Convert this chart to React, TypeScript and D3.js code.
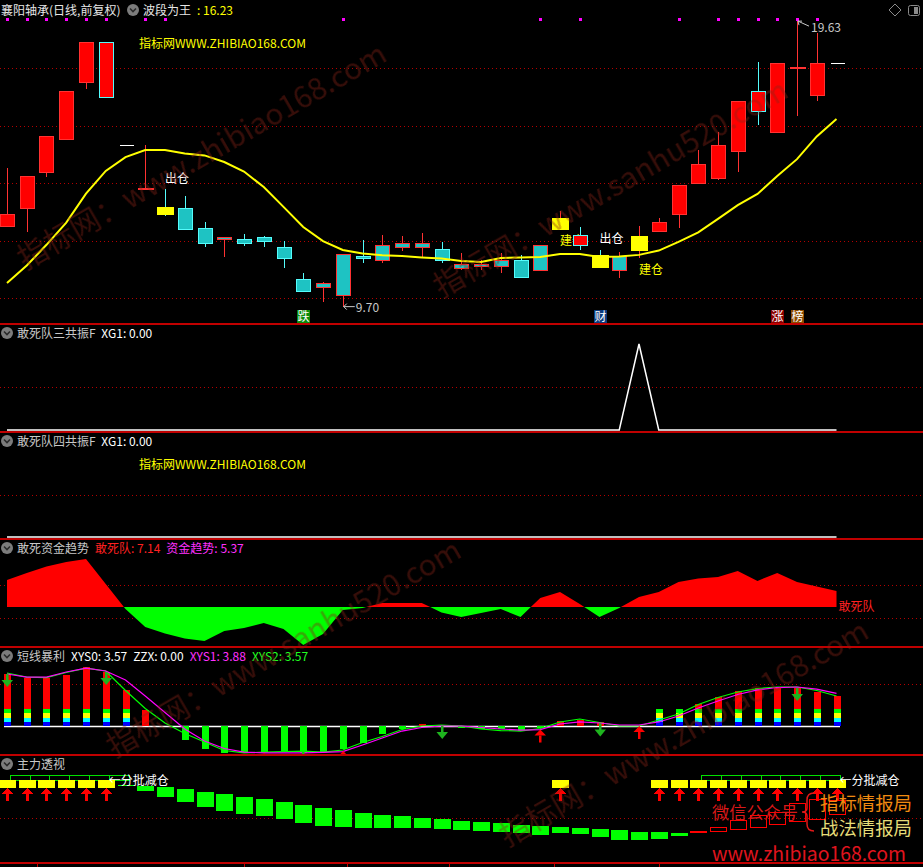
import * as d3 from 'd3';
import { useEffect, useRef } from 'react';

const W = 923;
const H = 867;

// daily candles, price
const openP = [12.47, 13.10, 14.38, 15.53, 17.48, 18.87, 15.32, 13.79, 13.17, 13.13, 12.43, 12.02, 12.02, 12.09, 11.77, 10.66, 10.38, 10.07, 11.43, 11.29, 11.77, 11.77, 11.67, 11.04, 11.08, 11.11, 11.32, 10.94, 12.37, 12.19, 11.50, 10.97, 11.63, 12.33, 12.89, 13.97, 14.17, 15.11, 17.20, 15.74, 18.00, 17.06, 18.17];
const highP = [14.52, 14.21, 15.63, 17.20, 18.90, 18.90, 15.32, 15.32, 13.79, 13.55, 12.64, 12.12, 12.23, 12.16, 11.98, 10.87, 10.56, 11.53, 12.02, 12.19, 12.16, 12.26, 11.95, 11.57, 11.32, 11.57, 11.50, 11.84, 13.03, 12.47, 11.67, 11.60, 12.50, 12.78, 13.90, 15.15, 15.77, 16.82, 18.21, 18.14, 19.63, 19.22, 18.17];
const lowP = [12.47, 12.30, 14.21, 15.50, 17.27, 16.99, 15.32, 13.79, 12.85, 12.40, 11.77, 11.43, 11.81, 11.77, 11.04, 10.24, 9.86, 9.70, 11.22, 11.22, 11.63, 11.39, 11.22, 10.97, 10.97, 10.87, 10.73, 10.94, 12.37, 11.67, 11.04, 10.70, 11.39, 12.33, 12.43, 13.97, 14.10, 14.38, 16.02, 15.74, 16.33, 16.85, 18.17];
const closeP = [12.92, 14.21, 15.63, 17.20, 18.90, 16.99, 15.32, 13.79, 12.89, 12.40, 11.88, 12.12, 11.91, 11.95, 11.39, 10.24, 10.49, 11.50, 11.39, 11.81, 11.88, 11.91, 11.32, 11.15, 11.15, 11.32, 10.73, 11.84, 12.78, 11.84, 11.04, 11.43, 12.16, 12.64, 13.90, 14.63, 15.29, 16.82, 16.50, 18.14, 18.00, 18.17, 18.17];
// body paint: r red, c cyan, y yellow, w white
const bodyFill = ['r', 'r', 'r', 'r', 'r', 'r', 'w', 'r', 'y', 'c', 'c', 'c', 'c', 'c', 'c', 'c', 'c', 'c', 'c', 'c', 'c', 'c', 'c', 'c', 'c', 'c', 'c', 'c', 'y', 'r', 'y', 'c', 'y', 'r', 'r', 'r', 'r', 'r', 'r', 'r', 'r', 'r', 'w'];
// 波段为王
const maP = [10.52, 11.13, 11.85, 12.62, 13.63, 14.42, 14.90, 15.15, 15.15, 15.03, 14.96, 14.73, 14.40, 13.86, 13.17, 12.47, 11.98, 11.67, 11.55, 11.49, 11.46, 11.41, 11.37, 11.29, 11.25, 11.39, 11.41, 11.43, 11.53, 11.53, 11.43, 11.44, 11.50, 11.65, 11.95, 12.28, 12.75, 13.23, 13.62, 14.24, 14.83, 15.62, 16.23];
const dotIdx = [0, 1, 2, 3, 4, 5, 7, 8, 17, 27, 29, 34, 36, 37, 38, 39, 40, 41];
const sellIdx = [8, 30];
const buyIdx = [28, 32];
const markIdx = [15, 30, 39, 40];
const markText = ['跌', '财', '涨', '榜'];
const markColor = ['#0a8a0a', '#0b3b7e', '#8a0000', '#8c4a00'];

// 敢死队三共振F / 四共振F
const xg3 = [0, 0, 0, 0, 0, 0, 0, 0, 0, 0, 0, 0, 0, 0, 0, 0, 0, 0, 0, 0, 0, 0, 0, 0, 0, 0, 0, 0, 0, 0, 0, 0, 1, 0, 0, 0, 0, 0, 0, 0, 0, 0, 0];
const xg4 = [0, 0, 0, 0, 0, 0, 0, 0, 0, 0, 0, 0, 0, 0, 0, 0, 0, 0, 0, 0, 0, 0, 0, 0, 0, 0, 0, 0, 0, 0, 0, 0, 0, 0, 0, 0, 0, 0, 0, 0, 0, 0, 0];

// 敢死资金趋势
const gsd = [12.0, 15.1, 18.0, 20.0, 21.3, 10.2, -0.9, -8.9, -11.8, -14.0, -15.1, -10.7, -9.3, -7.1, -9.8, -16.9, -12.0, -1.3, -0.4, 1.8, 1.8, 1.8, -2.4, -4.4, -2.7, -0.9, -4.4, 4.0, 6.7, 1.3, -4.4, -0.4, 4.4, 6.7, 11.1, 12.7, 13.3, 16.0, 11.6, 15.1, 11.1, 9.1, 7.14];

// 短线暴利
const xys0 = [6.19, 5.71, 5.71, 6.07, 7.02, 6.43, 4.29, 1.90, 0, -1.67, -2.74, -3.21, -3.21, -3.10, -2.98, -3.21, -3.10, -2.74, -2.02, -1.01, -0.30, 0.18, 0, -0.18, -0.36, -0.36, -0.60, -0.18, 0.54, 0.77, 0.42, 0, 0, 2.02, 2.02, 2.62, 3.45, 4.17, 4.52, 4.64, 4.52, 4.05, 3.57];
const xys1 = [6.19, 5.83, 5.83, 6.43, 6.90, 6.55, 5.48, 3.57, 1.61, -0.36, -1.79, -2.68, -3.10, -3.21, -3.21, -3.21, -3.15, -3.04, -2.26, -1.43, -0.60, -0.18, 0, 0, -0.18, -0.36, -0.48, -0.42, 0.24, 0.48, 0.36, 0.12, 0.12, 0.48, 1.19, 2.14, 2.98, 3.75, 4.29, 4.58, 4.64, 4.40, 3.88];
const xys2 = [6.31, 5.83, 5.77, 6.37, 6.90, 6.55, 4.23, 2.08, 0.36, -0.89, -1.90, -2.92, -3.21, -3.10, -3.04, -2.98, -3.10, -2.86, -1.96, -1.25, -0.42, 0, 0.12, 0, -0.36, -0.54, -0.60, -0.30, 0.48, 0.83, 0.42, 0, 0, 0.71, 1.43, 2.56, 3.39, 4.05, 4.46, 4.64, 4.64, 4.23, 3.57];
const downIdx = [0, 5, 15, 22, 30, 40];
const upIdx = [13, 17, 27, 32];

// 主力透视
const zlOpen = [null, null, null, null, null, null, 78, 77, 76, 74, 71, 69, 66, 64, 61, 58, 55, 53, 50, 48, 47, 45, 44, 42, 41, 40, 38, 37, 36, 35, 34, 33, 31, 31, 30, 30, 31, 33, 35, 38, 41, 43, 48];
const zlClose = [null, null, null, null, null, null, 77, 72, 66, 61, 56, 52, 49, 47, 44, 40, 37, 36, 35, 35, 35, 35, 34, 33, 32, 31, 30, 28, 30, 29, 26, 23, 23, 24, 27, 32, 36, 43, 48, 51, 60, 64, 63];
const zlSignal = [0, 1, 2, 3, 4, 5, 28, 33, 34, 35, 36, 37, 38, 39, 40, 41, 42];
const zlHold = [0, 1, 2, 3, 4, 5, 35, 36, 37, 38, 39, 40, 41];
const dateTicks = [1.5, 12, 17.2, 22.4, 27.7, 33];

const watermarks = [
  { text: '指标网：www.zhibiao168.com', x: 203, y: 158 },
  { text: '指标网：www.sanhu520.com', x: 612, y: 190 },
  { text: '指标网：www.sanhu520.com', x: 285, y: 650 },
  { text: '指标网：www.zhibiao168.com', x: 685, y: 735 },
];

const FONT = '"Noto Sans CJK SC", "Noto Sans", sans-serif';

export default function App() {
  const ref = useRef<SVGSVGElement>(null);

  useEffect(() => {
    if (!ref.current) return;
    const svg = d3.select(ref.current);
    svg.selectAll('*').remove();

    const n = closeP.length;
    const idx = d3.range(n);
    const x = d3.scaleLinear().domain([0, n - 1]).range([7, 836.5]);
    const cx = (i: number) => Math.round(x(i)) + 0.5;

    const yP = d3.scaleLinear().domain([10, 18]).range([298, 68]);
    const y3 = d3.scaleLinear().domain([0, 1]).range([430, 344]);
    const y4 = d3.scaleLinear().domain([0, 1]).range([537, 453]);
    const yF = d3.scaleLinear().domain([0, 10]).range([607, 584.5]);
    const yS = d3.scaleLinear().domain([0, 5]).range([726, 684]);
    const yZ = d3.scaleLinear().domain([0, 100]).range([863, 763]);

    svg.append('rect').attr('width', W).attr('height', H).attr('fill', '#000');

    // dotted grid
    const grid = svg.append('g').attr('stroke', '#b40000').attr('stroke-dasharray', '1,3').attr('shape-rendering', 'crispEdges');
    [...[10, 12, 14, 16, 18].map(yP), y3(0.5), y4(0.5), yF(10), yF(-5), yS(5), yZ(45)].forEach(gy => {
      const yy = Math.round(gy) + 0.5;
      grid.append('line').attr('x1', 0).attr('x2', W).attr('y1', yy).attr('y2', yy);
    });

    // panel separators
    [324, 432, 539, 647, 755, 863].forEach(sy => {
      svg.append('rect').attr('x', 0).attr('y', sy - 1).attr('width', W).attr('height', 2).attr('fill', '#c00000');
    });
    dateTicks.forEach(t => {
      svg.append('rect').attr('x', Math.round(x(t))).attr('y', 864).attr('width', 1).attr('height', 3).attr('fill', '#c00000');
    });

    const icon = (ix: number, iy: number) => {
      svg.append('circle').attr('cx', ix).attr('cy', iy).attr('r', 6).attr('fill', '#7c7c7c');
      svg.append('path').attr('d', `M${ix - 3},${iy - 1.5} L${ix},${iy + 1.5} L${ix + 3},${iy - 1.5}`)
        .attr('fill', 'none').attr('stroke', '#2a2a2a').attr('stroke-width', 1.6);
    };
    const header = (hx: number, hy: number, parts: [string, string][]) => {
      const t = svg.append('text').attr('x', hx).attr('y', hy + 4.5).attr('font-size', 12).attr('font-family', FONT);
      parts.forEach(([s, col], k) => t.append('tspan').attr('dx', k ? 6 : 0).attr('fill', col).text(s));
    };

    // ---------- panel 1: candles ----------
    header(1, 10, [['襄阳轴承(日线,前复权)', '#e6e6e6']]);
    icon(133, 10);
    header(143, 10, [['波段为王', '#e6e6e6'], [': 16.23', '#ffff00']]);
    // top-right icons
    svg.append('path').attr('d', 'M895,4 L901,10 L895,16 L889,10 Z').attr('fill', 'none').attr('stroke', '#8a8a8a');
    svg.append('rect').attr('x', 908.5).attr('y', 5.5).attr('width', 11).attr('height', 10).attr('rx', 2).attr('fill', 'none').attr('stroke', '#8a8a8a');
    svg.append('rect').attr('x', 914).attr('y', 7).attr('width', 4).attr('height', 7).attr('fill', '#8a8a8a');

    svg.append('text').attr('x', 139).attr('y', 47.5).attr('font-size', 12).attr('font-family', FONT)
      .attr('fill', '#ffff00').attr('textLength', 167).attr('lengthAdjust', 'spacingAndGlyphs').text('指标网WWW.ZHIBIAO168.COM');

    svg.append('g').attr('fill', '#ff00ff').selectAll('rect').data(dotIdx).join('rect')
      .attr('x', i => Math.round(x(i)) - 1).attr('y', 18).attr('width', 3).attr('height', 3);

    // signal words
    sellIdx.forEach(i => {
      svg.append('text').attr('x', x(i)).attr('y', yP(highP[i]) - 11 + 4.5).attr('font-size', 12).attr('font-family', FONT)
        .attr('fill', '#ffffff').text('出仓');
    });
    buyIdx.forEach(i => {
      svg.append('text').attr('x', x(i)).attr('y', yP(lowP[i]) + 11 + 4.5).attr('font-size', 12).attr('font-family', FONT)
        .attr('fill', '#ffff00').text('建仓');
    });

    const RED = '#ff3232';
    const CYAN = '#54fcfc';
    const paint: Record<string, string> = { r: '#ff0000', c: '#1ec3c3', y: '#ffff00', w: '#ffffff' };
    const cg = svg.append('g').attr('shape-rendering', 'crispEdges');
    idx.forEach(i => {
      const px = cx(i);
      const o = openP[i];
      const c = closeP[i];
      const f = bodyFill[i];
      if (f === 'w') {
        cg.append('line').attr('x1', px - 7).attr('x2', px + 7).attr('y1', yP(c)).attr('y2', yP(c)).attr('stroke', '#ffffff');
        return;
      }
      const edge = c >= o ? RED : CYAN;
      cg.append('line').attr('x1', px).attr('x2', px).attr('y1', yP(highP[i])).attr('y2', yP(lowP[i])).attr('stroke', edge);
      if (o === c) {
        cg.append('line').attr('x1', px - 8).attr('x2', px + 8).attr('y1', yP(o)).attr('y2', yP(o)).attr('stroke', edge).attr('stroke-width', 2);
        return;
      }
      const top = yP(Math.max(o, c));
      const bot = yP(Math.min(o, c));
      const hw = f === 'y' ? 8.5 : 7;
      cg.append('rect').attr('x', px - hw).attr('y', top).attr('width', hw * 2).attr('height', Math.max(1, bot - top))
        .attr('fill', paint[f]).attr('stroke', f === 'y' ? 'none' : edge);
    });

    svg.append('path').datum(idx)
      .attr('d', d3.line<number>().x(i => x(i)).y(i => yP(maP[i])))
      .attr('fill', 'none').attr('stroke', '#ffff00').attr('stroke-width', 2);

    // extremes
    const lo = d3.minIndex(lowP);
    const hi = d3.maxIndex(highP);
    const ly = yP(lowP[lo]);
    svg.append('path').attr('d', `M${x(lo) + 1},${ly} L${x(lo) + 12},${ly} M${x(lo) + 4},${ly - 3} L${x(lo) + 1},${ly} L${x(lo) + 4},${ly + 3}`)
      .attr('fill', 'none').attr('stroke', '#c8c8c8');
    svg.append('text').attr('x', x(lo) + 13).attr('y', ly + 5).attr('font-size', 12).attr('font-family', FONT).attr('fill', '#c8c8c8').text(lowP[lo].toFixed(2));
    const hy = yP(highP[hi]);
    svg.append('path').attr('d', `M${x(hi) + 1},${hy} L${x(hi) + 12},${hy + 5} M${x(hi) + 1},${hy} L${x(hi) + 5},${hy} M${x(hi) + 1},${hy} L${x(hi) + 2},${hy + 4}`)
      .attr('fill', 'none').attr('stroke', '#c8c8c8');
    svg.append('text').attr('x', x(hi) + 14).attr('y', hy + 11).attr('font-size', 12).attr('font-family', FONT).attr('fill', '#c8c8c8').text(highP[hi].toFixed(2));

    markIdx.forEach((i, k) => {
      svg.append('rect').attr('x', Math.round(x(i)) - 6).attr('y', 310).attr('width', 13).attr('height', 13).attr('fill', markColor[k]);
      svg.append('text').attr('x', Math.round(x(i)) + 0.5).attr('y', 321).attr('text-anchor', 'middle').attr('font-size', 12)
        .attr('font-family', FONT).attr('fill', '#ffffff').text(markText[k]);
    });

    // ---------- panel 2 & 3 ----------
    icon(7, 333);
    header(17, 333, [['敢死队三共振F', '#c8c8c8'], ['XG1: 0.00', '#ffffff']]);
    svg.append('path').datum(idx).attr('d', d3.line<number>().x(i => x(i)).y(i => y3(xg3[i])))
      .attr('fill', 'none').attr('stroke', '#ffffff').attr('stroke-width', 1.5);
    icon(7, 441);
    header(17, 441, [['敢死队四共振F', '#c8c8c8'], ['XG1: 0.00', '#ffffff']]);
    svg.append('text').attr('x', 139).attr('y', 468.5).attr('font-size', 12).attr('font-family', FONT)
      .attr('fill', '#ffff00').attr('textLength', 167).attr('lengthAdjust', 'spacingAndGlyphs').text('指标网WWW.ZHIBIAO168.COM');
    svg.append('path').datum(idx).attr('d', d3.line<number>().x(i => x(i)).y(i => y4(xg4[i])))
      .attr('fill', 'none').attr('stroke', '#ffffff').attr('stroke-width', 1.5);

    // ---------- panel 4 ----------
    icon(7, 548);
    header(17, 548, [['敢死资金趋势', '#c8c8c8'], ['敢死队: 7.14', '#ff2020'], ['资金趋势: 5.37', '#ff30ff']]);
    const defs = svg.append('defs');
    defs.append('clipPath').attr('id', 'pos').append('rect').attr('x', 0).attr('y', 541).attr('width', W).attr('height', yF(0) - 541);
    defs.append('clipPath').attr('id', 'neg').append('rect').attr('x', 0).attr('y', yF(0)).attr('width', W).attr('height', 646 - yF(0));
    defs.append('clipPath').attr('id', 'p5').append('rect').attr('x', 0).attr('y', 648).attr('width', W).attr('height', 106);
    const areaF = d3.area<number>().x(i => x(i)).y0(yF(0)).y1(i => yF(gsd[i]));
    svg.append('path').datum(idx).attr('d', areaF).attr('fill', '#ff0000').attr('clip-path', 'url(#pos)');
    svg.append('path').datum(idx).attr('d', areaF).attr('fill', '#00ff00').attr('clip-path', 'url(#neg)');
    svg.append('text').attr('x', x(n - 1) + 2).attr('y', yF(0) + 4).attr('font-size', 12).attr('font-family', FONT).attr('fill', '#ff2020').text('敢死队');

    // ---------- panel 5 ----------
    icon(7, 656);
    header(17, 656, [['短线暴利', '#c8c8c8'], ['XYS0: 3.57', '#ffffff'], ['ZZX: 0.00', '#ffffff'], ['XYS1: 3.88', '#ff30ff'], ['XYS2: 3.57', '#20ff20']]);
    const g5 = svg.append('g').attr('clip-path', 'url(#p5)');
    g5.append('line').attr('x1', 4).attr('x2', 840).attr('y1', yS(0) + 0.5).attr('y2', yS(0) + 0.5).attr('stroke', '#ffffff').attr('stroke-width', 1.5);
    const stack = ['#0000ff', '#00ffff', '#ffff00', '#00ff00'];
    const bars = g5.append('g').attr('shape-rendering', 'crispEdges');
    idx.forEach(i => {
      const v = xys0[i];
      if (v === 0) return;
      const bx = Math.round(x(i)) - 3;
      bars.append('rect').attr('x', bx).attr('width', 7).attr('y', Math.min(yS(v), yS(0))).attr('height', Math.abs(yS(v) - yS(0)))
        .attr('fill', v > 0 ? '#ff0000' : '#00ff00');
      if (v >= 2) {
        stack.forEach((col, k) => {
          bars.append('rect').attr('x', bx).attr('width', 7).attr('y', yS((k + 1) * 0.5)).attr('height', yS(k * 0.5) - yS((k + 1) * 0.5)).attr('fill', col);
        });
      }
    });
    g5.append('path').datum(idx).attr('d', d3.line<number>().x(i => x(i)).y(i => yS(xys2[i])))
      .attr('fill', 'none').attr('stroke', '#00ff00').attr('stroke-width', 1.2);
    g5.append('path').datum(idx).attr('d', d3.line<number>().x(i => x(i)).y(i => yS(xys1[i])))
      .attr('fill', 'none').attr('stroke', '#ff00ff').attr('stroke-width', 1.2);

    const arrow = (g: any, ax: number, ay: number, down: boolean, col: string) => {
      if (down) {
        g.append('rect').attr('x', ax - 1).attr('y', ay).attr('width', 2.5).attr('height', 7).attr('fill', col);
        g.append('path').attr('d', `M${ax - 5.5},${ay + 6} L${ax + 6},${ay + 6} L${ax + 0.25},${ay + 13} Z`).attr('fill', col);
      } else {
        g.append('path').attr('d', `M${ax + 0.25},${ay} L${ax - 5.5},${ay + 6} L${ax + 6},${ay + 6} Z`).attr('fill', col);
        g.append('rect').attr('x', ax - 1).attr('y', ay + 6).attr('width', 2.5).attr('height', 7).attr('fill', col);
      }
    };
    const ag = g5.append('g');
    downIdx.forEach(i => arrow(ag, Math.round(x(i)), yS(Math.max(xys1[i], xys2[i])) + 1, true, '#1eb41e'));
    upIdx.forEach(i => arrow(ag, Math.round(x(i)), yS(Math.max(xys1[i], xys2[i])) + 1, false, '#ff0000'));

    // ---------- panel 6 ----------
    icon(7, 764);
    header(17, 764, [['主力透视', '#c8c8c8']]);
    const g6 = svg.append('g').attr('shape-rendering', 'crispEdges');
    zlHold.forEach(i => {
      const x0 = Math.round(x(i)) + 3;
      const x1 = Math.round(x(i + 1)) + 3;
      g6.append('rect').attr('x', x0 + 0.5).attr('y', yZ(88) + 0.5).attr('width', x1 - x0).attr('height', yZ(83) - yZ(88))
        .attr('fill', 'none').attr('stroke', '#00e000');
    });
    idx.forEach(i => {
      const o = zlOpen[i];
      const c = zlClose[i];
      if (o === null || c === null) return;
      const top = yZ(Math.max(o, c));
      const bot = yZ(Math.min(o, c));
      const bx = Math.round(x(i)) - 8;
      if (c > o) {
        g6.append('rect').attr('x', bx + 0.5).attr('y', top + 0.5).attr('width', 16).attr('height', Math.max(1, bot - top - 1))
          .attr('fill', 'none').attr('stroke', '#ff0000');
      } else {
        g6.append('rect').attr('x', bx).attr('y', top).attr('width', 17).attr('height', Math.max(1, bot - top)).attr('fill', '#00ff00');
      }
    });
    zlSignal.forEach(i => {
      g6.append('rect').attr('x', Math.round(x(i)) - 8).attr('y', yZ(83)).attr('width', 17).attr('height', yZ(75) - yZ(83)).attr('fill', '#ffff00');
      arrow(g6, Math.round(x(i)), yZ(75), false, '#ff0000');
    });
    // label at end of each signal run
    zlSignal.forEach((i, k) => {
      const prev = zlSignal[k - 1];
      const next = zlSignal[k + 1];
      const inRun = prev === i - 1 || next === i + 1;
      if (inRun && next !== i + 1) {
        svg.append('text').attr('x', x(i) + 3).attr('y', yZ(83) + 4.5).attr('font-size', 12).attr('font-family', FONT)
          .attr('fill', '#ffffff').text('←分批减仓');
      }
    });

    // promo block
    svg.append('text').attr('x', 712).attr('y', 819).attr('font-size', 17).attr('font-family', FONT).attr('fill', '#d81818')
      .attr('textLength', 86).attr('lengthAdjust', 'spacingAndGlyphs').text('微信公众号');
    svg.append('path').attr('d', 'M814,793 Q807,793 807,800 L807,808 Q807,812 802,812 Q807,812 807,816 L807,824 Q807,831 814,831')
      .attr('fill', 'none').attr('stroke', '#e01818').attr('stroke-width', 1.5);
    svg.append('text').attr('x', 820).attr('y', 810).attr('font-size', 18.5).attr('font-family', FONT).attr('fill', '#f08a10')
      .attr('textLength', 92).attr('lengthAdjust', 'spacingAndGlyphs').text('指标情报局');
    svg.append('text').attr('x', 820).attr('y', 835).attr('font-size', 18.5).attr('font-family', FONT).attr('fill', '#e6dc78')
      .attr('textLength', 92).attr('lengthAdjust', 'spacingAndGlyphs').text('战法情报局');
    svg.append('text').attr('x', 712).attr('y', 861).attr('font-size', 20).attr('font-family', FONT).attr('fill', '#e0141e')
      .attr('textLength', 194).attr('lengthAdjust', 'spacingAndGlyphs').text('www.zhibiao168.com');

    // watermarks
    const wm = svg.append('g').attr('font-family', FONT).attr('font-size', 30).attr('fill', '#8a2418').attr('opacity', 0.4);
    watermarks.forEach(w => {
      wm.append('text').attr('x', w.x).attr('y', w.y).attr('text-anchor', 'middle').attr('dominant-baseline', 'middle')
        .attr('transform', `rotate(-30 ${w.x} ${w.y})`).text(w.text);
    });
  }, []);

  return (
    <div style={{ position: 'absolute', left: 0, top: 0 }}>
      <svg ref={ref} width={W} height={H} style={{ display: 'block' }} />
    </div>
  );
}
